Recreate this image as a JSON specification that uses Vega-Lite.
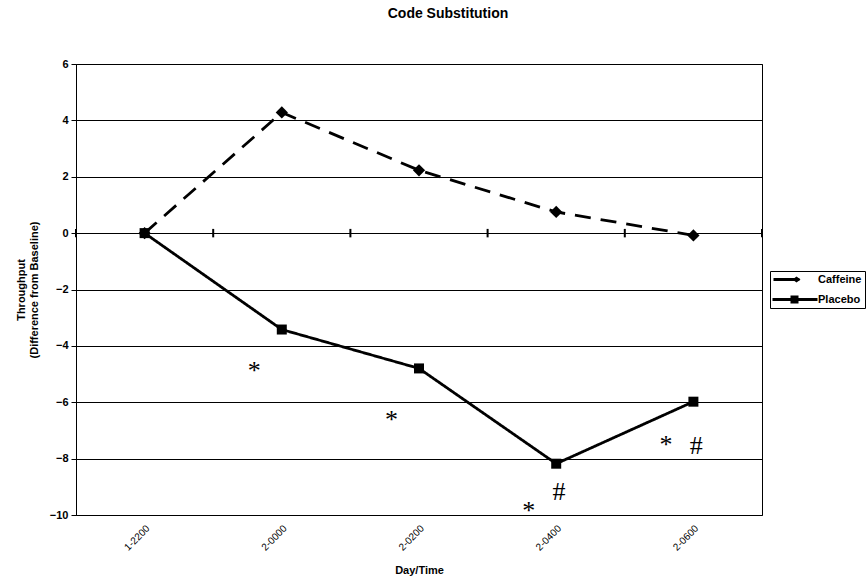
{
  "$schema": "https://vega.github.io/schema/vega-lite/v6.json",
  "autosize": "none",
  "width": 686,
  "height": 451,
  "padding": {"left": 76, "top": 64, "right": 105, "bottom": 71},
  "background": "white",
  "title": {"text": "Code Substitution", "font": "Liberation Sans", "fontSize": 14, "fontWeight": "bold", "color": "black", "offset": 37, "dx": 29},
  "config": {
    "view": {"stroke": "black", "strokeWidth": 1},
    "axis": {"labelFont": "Liberation Sans", "titleFont": "Liberation Sans", "labelColor": "black", "titleColor": "black", "titleFontWeight": "bold", "titleFontSize": 11}
  },
  "datasets": {
    "series": [
      {"time": "1-2200", "series": "Caffeine", "value": 0},
      {"time": "2-0000", "series": "Caffeine", "value": 4.28},
      {"time": "2-0200", "series": "Caffeine", "value": 2.23},
      {"time": "2-0400", "series": "Caffeine", "value": 0.75},
      {"time": "2-0600", "series": "Caffeine", "value": -0.08},
      {"time": "1-2200", "series": "Placebo", "value": 0},
      {"time": "2-0000", "series": "Placebo", "value": -3.42},
      {"time": "2-0200", "series": "Placebo", "value": -4.8},
      {"time": "2-0400", "series": "Placebo", "value": -8.18},
      {"time": "2-0600", "series": "Placebo", "value": -5.98}
    ],
    "notes": [
      {"time": "2-0000", "note": "*", "y": -4.9},
      {"time": "2-0200", "note": "*", "y": -6.62},
      {"time": "2-0400", "note": "*", "y": -9.87},
      {"time": "2-0600", "note": "*", "y": -7.5},
      {"time": "2-0400", "note": "#", "y": -9.19},
      {"time": "2-0600", "note": "#", "y": -7.55}
    ]
  },
  "resolve": {"scale": {"shape": "independent"}, "legend": {"shape": "independent"}},
  "layer": [
    {
      "data": {"name": "series"},
      "transform": [{"filter": "datum.series === 'Caffeine'"}],
      "mark": {"type": "rule", "color": "black", "strokeWidth": 2},
      "encoding": {
        "x": {"field": "time", "type": "ordinal", "bandPosition": 0,
              "scale": {"type": "band", "paddingInner": 0, "paddingOuter": 0},
              "axis": {"title": "Day/Time", "labelAngle": -45, "labelFontSize": 10, "ticks": false, "domain": false, "labelPadding": 8, "titlePadding": 12}},
        "y": {"datum": -0.15, "type": "quantitative"},
        "y2": {"datum": 0.15}
      }
    },
    {
      "data": {"name": "series"},
      "transform": [{"filter": "datum.series === 'Caffeine' && datum.time === '2-0600'"}],
      "mark": {"type": "rule", "color": "black", "strokeWidth": 2},
      "encoding": {
        "x": {"field": "time", "type": "ordinal", "bandPosition": 1},
        "y": {"datum": -0.15, "type": "quantitative"},
        "y2": {"datum": 0.15}
      }
    },
    {
      "mark": {"type": "rule", "color": "black", "strokeWidth": 3.5},
      "encoding": {
        "y": {"datum": 0, "type": "quantitative",
              "scale": {"domain": [-10, 6], "nice": false, "zero": false},
              "axis": {"values": [-10, -8, -6, -4, -2, 0, 2, 4, 6], "grid": true, "gridColor": "black", "gridWidth": 1, "gridOpacity": 1,
                       "domainColor": "black", "tickColor": "black", "tickSize": 5, "labelFontSize": 11, "labelFontWeight": "bold", "labelPadding": 3,
                       "title": ["Throughput", "(Difference from Baseline)"], "titlePadding": 10}}
      }
    },
    {
      "data": {"name": "series"},
      "mark": {"type": "line", "color": "black", "strokeWidth": 2.8},
      "encoding": {
        "x": {"field": "time", "type": "ordinal"},
        "y": {"field": "value", "type": "quantitative"},
        "detail": {"field": "series"},
        "strokeDash": {"condition": {"test": "datum.series === 'Caffeine'", "value": [16, 10]}, "value": [1, 0]}
      }
    },
    {
      "data": {"name": "series"},
      "mark": {"type": "point", "filled": true, "color": "black", "opacity": 1},
      "encoding": {
        "x": {"field": "time", "type": "ordinal"},
        "y": {"field": "value", "type": "quantitative"},
        "size": {"condition": {"test": "datum.series === 'Caffeine'", "value": 150}, "value": 100},
        "shape": {"field": "series", "type": "nominal", "scale": {"domain": ["Caffeine", "Placebo"], "range": ["diamond", "square"]}, "legend": null}
      }
    },
    {
      "data": {"name": "series"},
      "mark": {"type": "point", "filled": true, "color": "black", "opacity": 0, "size": 100},
      "encoding": {
        "x": {"field": "time", "type": "ordinal"},
        "y": {"field": "value", "type": "quantitative"},
        "shape": {"field": "series", "type": "nominal",
                  "scale": {"domain": ["Caffeine", "Placebo"], "range": ["M-2.6,-0.3H2.6V0.3H-2.6Z M2,-0.6L2.8,0L2,0.6L1.2,0Z", "M-2.8,-0.3H6.2V0.3H-2.8Z M0.8,-0.8H2.4V0.8H0.8Z"]},
                  "legend": {"orient": "none", "legendX": 694, "legendY": 207, "title": null, "strokeColor": "black", "padding": 3,
                             "labelFont": "Liberation Sans", "labelFontWeight": "bold", "labelFontSize": 11, "labelColor": "black",
                             "symbolSize": 100, "symbolStrokeWidth": 0, "symbolFillColor": "black", "symbolOpacity": 1,
                             "symbolOffset": 8, "labelOffset": 26, "rowPadding": 8}}
      }
    },
    {
      "data": {"name": "notes"},
      "transform": [{"filter": "datum.note === '*'"}],
      "mark": {"type": "text", "font": "Liberation Serif", "fontSize": 26, "color": "black", "baseline": "middle"},
      "encoding": {
        "x": {"field": "time", "type": "ordinal", "bandPosition": 0.3},
        "y": {"field": "y", "type": "quantitative"},
        "text": {"field": "note"}
      }
    },
    {
      "data": {"name": "notes"},
      "transform": [{"filter": "datum.note === '#'"}],
      "mark": {"type": "text", "font": "Liberation Serif", "fontSize": 26, "color": "black", "baseline": "middle"},
      "encoding": {
        "x": {"field": "time", "type": "ordinal", "bandPosition": 0.52},
        "y": {"field": "y", "type": "quantitative"},
        "text": {"field": "note"}
      }
    }
  ]
}
